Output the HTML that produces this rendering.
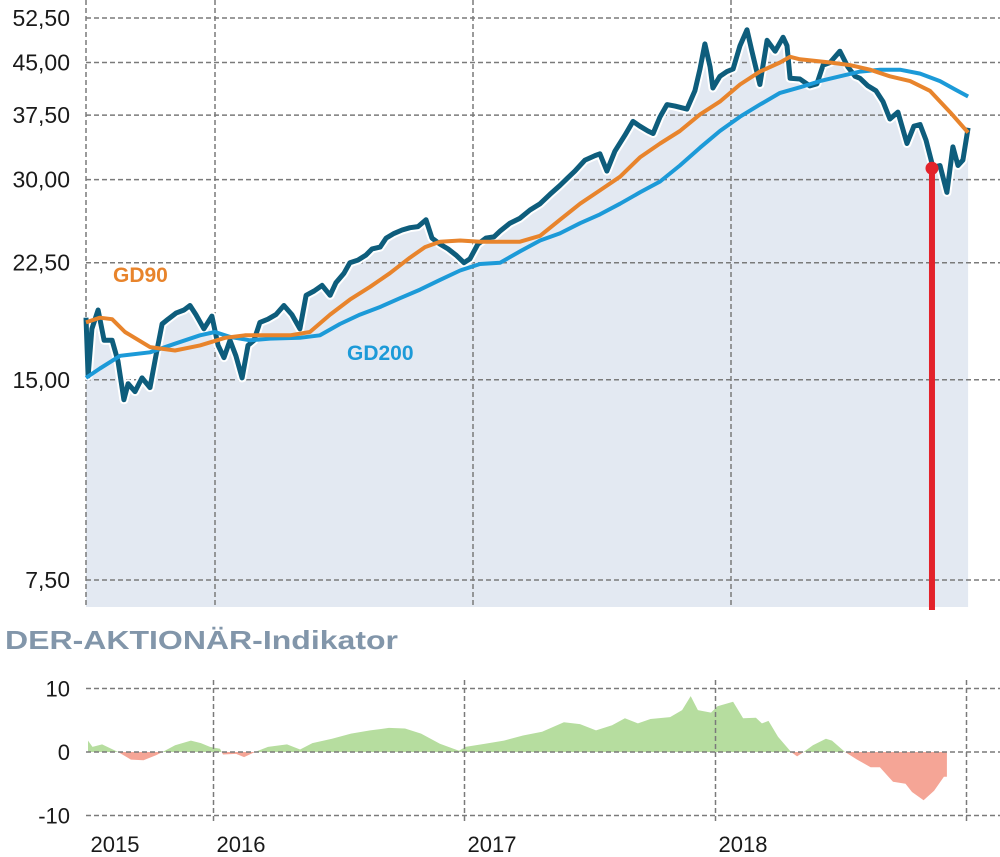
<!DOCTYPE html>
<html><head><meta charset="utf-8"><style>
html,body{margin:0;padding:0;background:#fff;}
svg{display:block;font-family:"Liberation Sans",sans-serif;}
</style></head><body>
<svg id="chart" width="1000" height="857" viewBox="0 0 1000 857" xmlns="http://www.w3.org/2000/svg">
<defs>
<clipPath id="posClip"><rect x="0" y="0" width="1000" height="752"/></clipPath>
<clipPath id="negClip"><rect x="0" y="752" width="1000" height="105"/></clipPath>
</defs>
<g id="topPanel"></g>
<g id="bottomPanel"></g>
</svg>
<script>
// ---- Price chart data (time in years since Jul 2015, values in EUR) ----
const priceT = [0,.008,.023,.047,.070,.101,.124,.147,.163,.190,.217,.248,.271,.295,.318,.349,.380,.403,.426,.457,.488,.512,.535,.558,.581,.605,.628,.651,.674,.705,.736,.767,.798,.829,.853,.884,.915,.946,.969,1.000,1.023,1.054,1.085,1.109,1.140,1.163,1.194,1.225,1.256,1.287,1.318,1.341,1.372,1.403,1.434,1.465,1.488,1.519,1.550,1.581,1.605,1.643,1.682,1.721,1.760,1.798,1.837,1.864,1.895,1.934,1.973,1.992,2.019,2.050,2.089,2.120,2.147,2.178,2.198,2.225,2.252,2.283,2.329,2.360,2.380,2.399,2.419,2.430,2.457,2.484,2.508,2.535,2.562,2.581,2.612,2.640,2.671,2.702,2.717,2.729,2.767,2.806,2.833,2.857,2.884,2.922,2.953,2.981,3.000,3.031,3.062,3.089,3.116,3.147,3.182,3.209,3.233,3.256,3.283,3.310,3.337,3.360,3.380,3.399,3.419];
const priceV = [18.6,15.2,17.9,19.1,17.2,17.2,16.0,14.0,14.8,14.4,15.1,14.6,16.3,18.2,18.5,18.9,19.1,19.4,18.8,17.9,18.7,16.9,16.2,17.2,16.3,15.1,16.9,17.2,18.3,18.5,18.8,19.4,18.8,17.9,20.1,20.4,20.8,20.1,21.0,21.7,22.5,22.7,23.1,23.6,23.75,24.5,24.9,25.2,25.4,25.5,26.1,24.5,24.0,23.6,23.1,22.5,22.8,24.0,24.5,24.6,25.1,25.8,26.25,27.0,27.6,28.5,29.4,30.1,30.9,32.1,32.6,32.8,30.9,33.1,35.0,36.7,36.1,35.5,35.2,37.3,38.9,38.7,38.3,40.8,44.0,48.0,44.3,41.2,42.9,43.6,44.0,47.7,50.4,46.8,41.7,48.6,46.8,49.1,47.7,42.6,42.5,41.5,41.8,44.6,45.0,46.8,44.3,42.9,42.6,41.5,40.8,39.3,37.0,37.9,34.0,36.1,36.3,34.4,31.3,31.5,28.7,33.6,31.5,32.1,35.9];
const gd90T = [0,.054,.101,.151,.248,.345,.442,.539,.616,.713,.791,.868,.946,1.023,1.101,1.178,1.256,1.314,1.372,1.450,1.527,1.605,1.682,1.760,1.837,1.915,1.992,2.070,2.147,2.225,2.302,2.380,2.457,2.535,2.612,2.690,2.729,2.767,2.884,2.961,3.039,3.116,3.194,3.271,3.349,3.419];
const gd90V = [18.3,18.6,18.5,17.7,16.8,16.6,16.9,17.35,17.5,17.5,17.5,17.7,18.8,19.8,20.7,21.7,22.9,23.75,24.2,24.3,24.2,24.2,24.2,24.7,26.1,27.6,28.9,30.3,32.4,34.0,35.5,37.6,39.3,41.7,43.6,45.0,45.9,45.5,45.0,44.6,43.9,42.9,42.2,40.8,37.9,35.3];
const gd200T = [0,.054,.132,.248,.345,.442,.500,.558,.636,.713,.829,.907,.984,1.062,1.140,1.217,1.295,1.372,1.450,1.527,1.605,1.682,1.760,1.837,1.915,1.992,2.070,2.147,2.225,2.302,2.380,2.457,2.535,2.612,2.690,2.767,2.845,2.922,3.000,3.078,3.155,3.233,3.310,3.368,3.419];
const gd200V = [15.1,15.6,16.3,16.5,17.0,17.5,17.7,17.4,17.2,17.3,17.35,17.5,18.2,18.8,19.3,19.9,20.5,21.2,21.9,22.4,22.5,23.4,24.3,24.9,25.8,26.6,27.6,28.7,29.8,31.5,33.5,35.5,37.3,38.9,40.5,41.3,42.2,42.9,43.6,43.9,43.9,43.3,42.2,41.0,40.0];
const yTicks = [52.5,45,37.5,30,22.5,15,7.5];
const yTickLabels = ["52,50","45,00","37,50","30,00","22,50","15,00","7,50"];
const markerT = 3.279;
const markerV = 31.2;
// ---- Indicator data ----
const indT = [0,.018,.056,.120,.171,.221,.271,.297,.347,.410,.450,.486,.526,.538,.590,.622,.665,.717,.793,.845,.894,.972,1.048,1.124,1.199,1.263,1.327,1.402,1.478,1.504,1.582,1.657,1.733,1.809,1.896,1.960,2.024,2.088,2.139,2.191,2.241,2.319,2.367,2.401,2.430,2.482,2.508,2.570,2.610,2.661,2.685,2.711,2.749,2.801,2.825,2.851,2.888,2.940,2.964,3.016,3.064,3.118,3.155,3.207,3.257,3.283,3.329,3.371,3.410,3.422];
const indV = [1.8,0.8,1.2,0,-1.2,-1.3,-0.5,0,1.05,1.8,1.4,0.8,0.5,-0.4,-0.3,-0.8,0,0.8,1.2,0.4,1.4,2.1,2.9,3.4,3.8,3.7,2.9,1.3,0.2,0.8,1.3,1.8,2.6,3.2,4.7,4.4,3.4,4.2,5.3,4.5,5.2,5.5,6.6,8.8,6.6,6.2,7.2,7.9,5.3,5.4,4.5,4.9,2.4,0,-0.7,0,1.05,2.1,1.8,0,-1.2,-2.4,-2.4,-4.7,-5.0,-6.3,-7.6,-6.1,-3.9,-3.9];
const indTicks = [10,0,-10];
const yearLabels = ["2015","2016","2017","2018"];
const yearLabelT = [0.01,0.5,1.5,2.5];
const yearGridT = [0.5,1.5,2.5,3.5];

const NS="http://www.w3.org/2000/svg";
function mk(tag, attrs, parent){const e=document.createElementNS(NS,tag);for(const k in attrs)e.setAttribute(k,attrs[k]);parent.appendChild(e);return e;}
const K=288.8;
const yTop=v=>18+(Math.log(52.5)-Math.log(v))*K;
const xTop=t=>86+t*258;
const yBot=v=>752-v*6.35;
const xBot=t=>88+t*251;
const topG=document.getElementById('topPanel');
const botG=document.getElementById('bottomPanel');

let d='M'+xTop(priceT[0])+',607';
priceT.forEach((t,i)=>{d+=' L'+xTop(t).toFixed(1)+','+yTop(priceV[i]).toFixed(1);});
d+=' L'+xTop(priceT[priceT.length-1])+',607 Z';
const area=mk('path',{d:d,fill:'#e3e9f2'},topG);



yTicks.forEach((v,i)=>{
  const y=yTop(v);
  const g=mk('line',{x1:86,x2:1000,y1:y,y2:y,stroke:'#7a7a7a','stroke-width':1.5,'stroke-dasharray':'5,3'},topG);
  
  
  const tx=mk('text',{x:70,y:y+8,'text-anchor':'end','font-size':23,fill:'#1a1a1a'},topG);
  tx.textContent=yTickLabels[i];
  
  
});
[0,0.5,1.5,2.5].forEach(t=>{
  const x=xTop(t);
  const g=mk('line',{x1:x,x2:x,y1:0,y2:607,stroke:'#7a7a7a','stroke-width':1.5,'stroke-dasharray':'5,3'},topG);
  
  
});

function linePath(T,V){return T.map((t,i)=>(i?'L':'M')+xTop(t).toFixed(1)+','+yTop(V[i]).toFixed(1)).join(' ');}
const halo=mk('path',{d:linePath(priceT,priceV),fill:'none',stroke:'#fff','stroke-width':9,'stroke-linejoin':'round'},topG);


const pl=mk('path',{d:linePath(priceT,priceV),fill:'none',stroke:'#0e5d7c','stroke-width':5,'stroke-linejoin':'round'},topG);


const g200=mk('path',{d:linePath(gd200T,gd200V),fill:'none',stroke:'#1c9ad8','stroke-width':4,'stroke-linejoin':'round'},topG);


const g90=mk('path',{d:linePath(gd90T,gd90V),fill:'none',stroke:'#e8842c','stroke-width':4,'stroke-linejoin':'round'},topG);



const l90=mk('text',{x:113,y:282,'font-size':21,'font-weight':'bold',fill:'#e8842c'},topG);
l90.textContent='GD90';


const l200=mk('text',{x:347,y:360,'font-size':21,'font-weight':'bold',fill:'#1c9ad8'},topG);
l200.textContent='GD200';



const mx=xTop(markerT), my=yTop(markerV);
const ml=mk('line',{x1:mx,x2:mx,y1:my,y2:610,stroke:'#e3222a','stroke-width':6},topG);


const mc=mk('circle',{cx:mx,cy:my,r:6.5,fill:'#e3222a'},topG);



const title=mk('text',{x:5,y:649,'font-size':26,'font-weight':'bold',fill:'#8296aa',textLength:393,lengthAdjust:'spacingAndGlyphs'},botG);
title.textContent='DER-AKTIONÄR-Indikator';



let a='M'+xBot(indT[0])+','+yBot(0);
indT.forEach((t,i)=>{a+=' L'+xBot(t).toFixed(1)+','+yBot(indV[i]).toFixed(1);});
a+=' L'+xBot(indT[indT.length-1])+','+yBot(0)+' Z';
const pos=mk('path',{d:a,fill:'#b6dd9f','clip-path':'url(#posClip)'},botG);


const neg=mk('path',{d:a,fill:'#f5a596','clip-path':'url(#negClip)'},botG);



indTicks.forEach(v=>{
  const y=yBot(v);
  const g=mk('line',{x1:86,x2:1000,y1:y,y2:y,stroke:'#7a7a7a','stroke-width':1.5,'stroke-dasharray':'5,3'},botG);
  
  
  const tx=mk('text',{x:70,y:y+8,'text-anchor':'end','font-size':22,fill:'#1a1a1a'},botG);
  tx.textContent=String(v);
  
  
});
yearGridT.forEach(t=>{
  const x=xBot(t);
  const g=mk('line',{x1:x,x2:x,y1:680,y2:822,stroke:'#7a7a7a','stroke-width':1.5,'stroke-dasharray':'5,3'},botG);
  
  
});
yearLabels.forEach((s,i)=>{
  const tx=mk('text',{x:xBot(yearLabelT[i])+(i===0?0:3),y:852,'font-size':22,fill:'#1a1a1a'},botG);
  tx.textContent=s;
  
  
});
</script>
</body></html>
